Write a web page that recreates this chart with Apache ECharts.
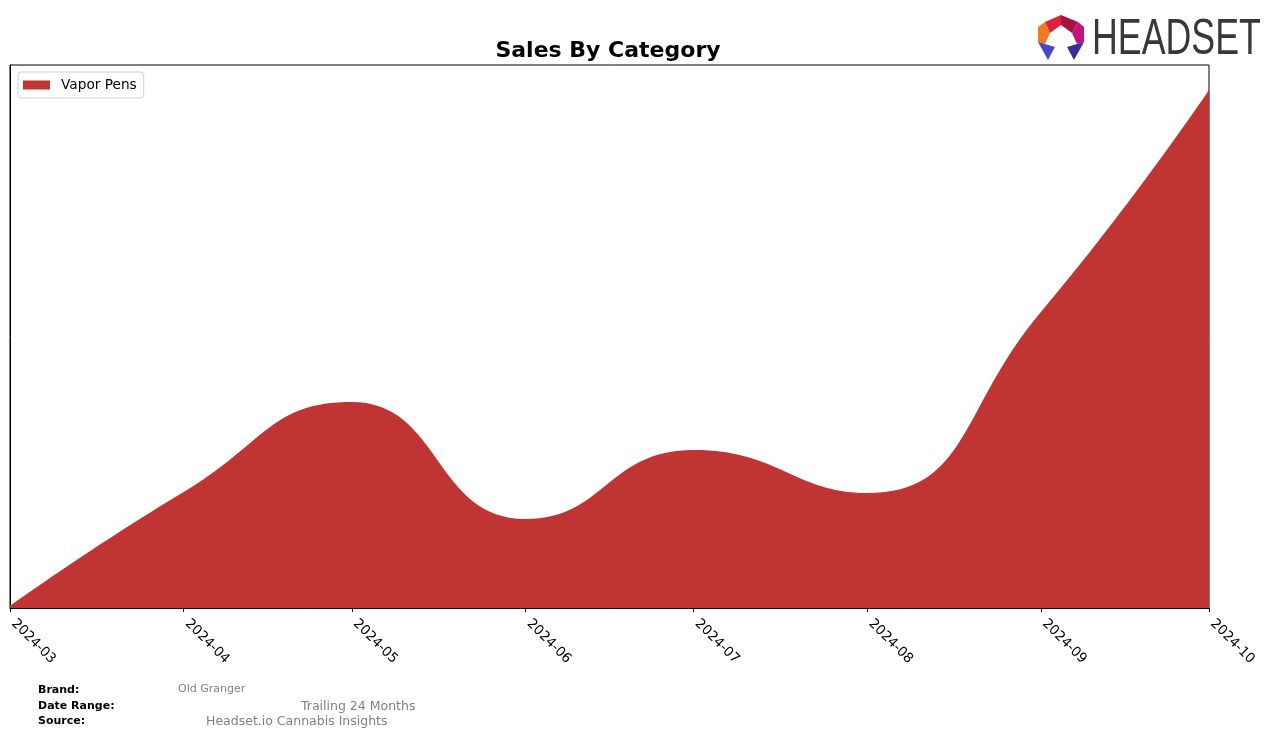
<!DOCTYPE html>
<html>
<head>
<meta charset="utf-8">
<script src="https://cdn.jsdelivr.net/npm/echarts@6/dist/echarts.min.js"></script>
<style>
html,body{margin:0;padding:0;background:#fff;}
#c{width:1276px;height:738px;}
</style>
</head>
<body>
<div id="c"></div>
<script>
// Data
const months = ['2024-03-01','2024-04-01','2024-05-01','2024-06-01','2024-07-01','2024-08-01','2024-09-01','2024-10-01'];
const vaporPens = [2, 116, 206, 89, 158, 115, 296, 518];
const seriesName = 'Vapor Pens';
const titleText = 'Sales By Category';
const footerLabels = ['Brand:', 'Date Range:', 'Source:'];
const footerValues = ['Old Granger', 'Trailing 24 Months', 'Headset.io Cannabis Insights'];

const FONT = 'DejaVu Sans';
const chart = echarts.init(document.getElementById('c'), null, {renderer: 'canvas'});

const data = months.map((m, i) => [m, vaporPens[i]]);

const option = {
  animation: false,
  backgroundColor: '#fff',
  title: {
    text: titleText,
    left: 603, top: 35, textAlign: 'center',
    textStyle: {fontFamily: FONT, fontWeight: 'bold', fontSize: 22, color: '#000'}
  },
  legend: {
    left: 18, top: 72,
    data: [seriesName],
    icon: 'rect', itemWidth: 27, itemHeight: 9, itemGap: 10,
    padding: [6, 7, 6, 5],
    backgroundColor: '#fff', borderColor: '#d0d0d0', borderWidth: 1, borderRadius: 3,
    textStyle: {fontFamily: FONT, fontSize: 13.7, color: '#000', padding: [0, 0, 0, 6]}
  },
  grid: {left: 10, right: 67, top: 65, bottom: 130, show: true, borderColor: '#000', borderWidth: 1, backgroundColor: 'transparent'},
  xAxis: {
    type: 'time',
    min: months[0], max: months[months.length - 1],
    minInterval: 28 * 86400000, maxInterval: 31 * 86400000,
    splitLine: {show: false},
    axisLine: {show: true, lineStyle: {color: '#000', width: 1}},
    axisTick: {show: true, length: 4, lineStyle: {color: '#000'}},
    axisLabel: {
      rotate: -45, fontFamily: FONT, fontSize: 13.5, color: '#000', margin: 10,
      padding: [0, 0, 0, 5],
      showMinLabel: true, showMaxLabel: true, hideOverlap: false,
      formatter: '{yyyy}-{MM}'
    }
  },
  yAxis: {
    type: 'value', min: 0, max: 543,
    axisLabel: {show: false}, axisTick: {show: false}, splitLine: {show: false},
    axisLine: {show: true, lineStyle: {color: '#000'}}
  },
  series: [{
    name: seriesName,
    type: 'line',
    data: data,
    smooth: 0.5,
    symbol: 'none',
    itemStyle: {color: '#c03434'},
    lineStyle: {width: 0, color: '#c03434'},
    areaStyle: {color: '#c03434', opacity: 1}
  }],
  graphic: [
    // footer
    {type: 'text', left: 38, top: 685, style: {text: footerLabels[0], font: 'bold 11px "DejaVu Sans"', fill: '#000'}},
    {type: 'text', left: 38, top: 701, style: {text: footerLabels[1], font: 'bold 11px "DejaVu Sans"', fill: '#000'}},
    {type: 'text', left: 38, top: 716, style: {text: footerLabels[2], font: 'bold 11px "DejaVu Sans"', fill: '#000'}},
    {type: 'text', left: 178, top: 684, style: {text: footerValues[0], font: '11px "DejaVu Sans"', fill: '#808080'}},
    {type: 'text', left: 301, top: 700, style: {text: footerValues[1], font: '12.5px "DejaVu Sans"', fill: '#808080'}},
    {type: 'text', left: 206, top: 715, style: {text: footerValues[2], font: '12.5px "DejaVu Sans"', fill: '#808080'}},
    // logo text
    {type: 'text', x: 1092, y: 15, scaleX: 0.715, style: {text: 'HEADSET', font: '50px "Liberation Sans"', fill: '#383838'}},
    // logo icon
    {type: 'polygon', shape: {points: [[1038,27],[1045,22],[1050,33],[1045,44],[1038,42]]}, style: {fill: '#f07a22'}},
    {type: 'polygon', shape: {points: [[1045,22],[1061,15],[1061,25],[1050,33]]}, style: {fill: '#e0213c'}},
    {type: 'polygon', shape: {points: [[1061,15],[1078,22],[1072,33],[1061,25]]}, style: {fill: '#a8123e'}},
    {type: 'polygon', shape: {points: [[1078,22],[1084,27],[1084,42],[1077,44],[1072,33]]}, style: {fill: '#c0147c'}},
    {type: 'polygon', shape: {points: [[1038,42],[1045,44],[1055,47],[1048,60]]}, style: {fill: '#4a46c8'}},
    {type: 'polygon', shape: {points: [[1084,42],[1077,44],[1067,47],[1074,60]]}, style: {fill: '#3a2c9c'}}
  ]
};
chart.setOption(option);
</script>
</body>
</html>
